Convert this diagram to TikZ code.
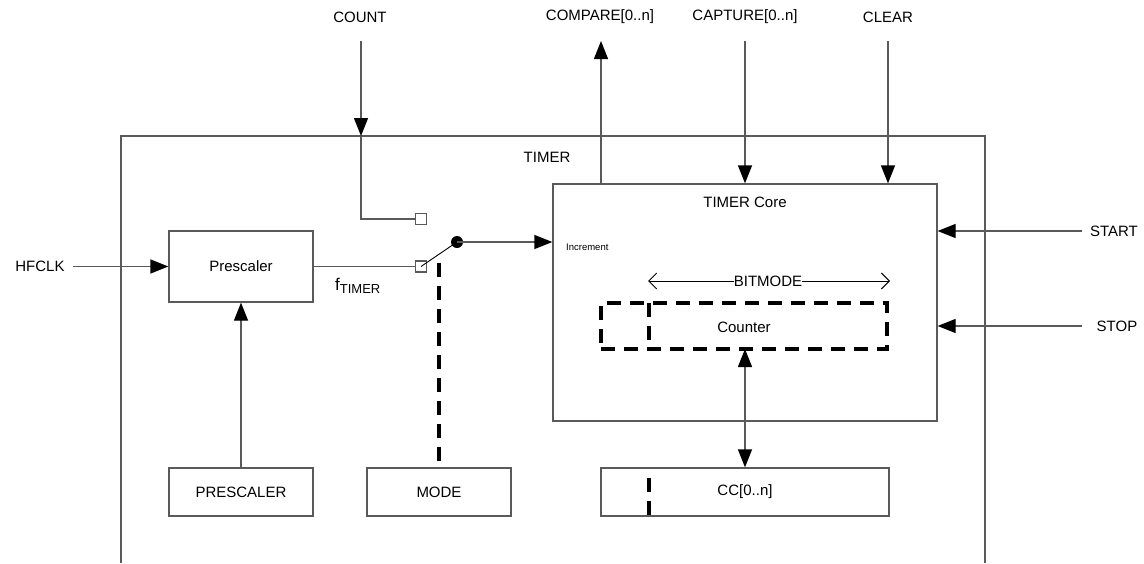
\documentclass[tikz,border=0pt]{standalone}
\usepackage{fontspec}
\setmainfont{Liberation Sans}
\usetikzlibrary{arrows.meta}
\definecolor{linegray}{RGB}{90,90,90}
\tikzset{
  ln/.style={draw=linegray, line width=1.3pt},
  arr/.style={ln, -{Triangle[length=18pt,width=14pt,fill=black,color=black]}},
  darr/.style={ln, {Triangle[length=18pt,width=14pt,fill=black,color=black]}-{Triangle[length=18pt,width=14pt,fill=black,color=black]}},
  openarr/.style={draw=black, line width=0.9pt, {Straight Barb[length=8pt,width=16pt]}-{Straight Barb[length=8pt,width=16pt]}},
  box/.style={ln, fill=white, rectangle, inner sep=0pt, font=\fontsize{15}{18}\selectfont},
  lbl/.style={inner sep=0pt, font=\fontsize{15}{18}\selectfont},
  thickdash/.style={draw=black, line width=4pt, dash pattern=on 14pt off 9pt},
  sq/.style={ln, fill=white, rectangle, minimum size=11pt, inner sep=0pt},
}
\begin{document}
\begin{tikzpicture}[x=1pt,y=-1pt]
\useasboundingbox (0,0) rectangle (1144,563);
% outer TIMER box
\draw[ln] (121,563) -- (121,136) -- (985,136) -- (985,563);
\node[lbl] (timer) at (547,157) {TIMER};
% blocks
\node[box, minimum width=144pt, minimum height=71pt] (pre) at (241,266.5) {Prescaler};
\node[box, minimum width=144pt, minimum height=48pt] (preg) at (241,492) {PRESCALER};
\node[box, minimum width=144pt, minimum height=48pt] (mode) at (439,492) {MODE};
\node[box, minimum width=384pt, minimum height=237pt] (core) at (745,302.5) {};
\node[lbl] (coret) at (745,202) {TIMER Core};
\node[inner sep=0pt, anchor=west, font=\fontsize{9.5}{11}\selectfont] (inc) at (566,247) {Increment};
\node[box, minimum width=288pt, minimum height=48pt] (cc) at (745,492) {CC[0..n]};
% counter
\node[rectangle, thickdash, minimum width=286pt, minimum height=46pt, inner sep=0pt] (cnt) at (744,326) {};
\node[lbl] (cntt) at (744,327) {Counter};
\draw[thickdash] (649,303) -- (649,349);
% bitmode
\coordinate (bmL) at (648,281);
\coordinate (bmR) at (890,281);
\draw[openarr] (bmL) -- (bmR);
\node[lbl, fill=white, inner xsep=0pt] (bm) at (768,281) {BITMODE};
% CC dash
\draw[thickdash] (649,478) -- (649,516);
% counter <-> CC
\draw[darr] (745,349) -- (cc.north);
% top labels
\node[lbl] (count) at (360,17) {COUNT};
\node[lbl] (compare) at (600,17) {COMPARE[0..n]};
\node[lbl] (capture) at (745,17) {CAPTURE[0..n]};
\node[lbl] (clear) at (888,17) {CLEAR};
\node[lbl] (hfclk) at (40,266) {HFCLK};
\node[lbl] (start) at (1114,231) {START};
\node[lbl] (stop) at (1117,326) {STOP};
\node[lbl, anchor=west] (ftimer) at (335,286) {\fontsize{17}{18}\selectfont f\textsubscript{\fontsize{13}{15}\selectfont TIMER}};
% switch
\node[sq] (s1) at (421,219) {};
\node[sq] (s2) at (421,266.5) {};
\node[circle, fill=black, minimum size=12pt, inner sep=0pt] (dot) at (457,242) {};
% COUNT path
\coordinate (countS) at (361,41);
\coordinate (countB) at (361,136);
\coordinate (countC) at (361,219);
\draw[arr] (countS) -- (countB);
\draw[ln] (countB) -- (countC) -- (s1.west);
% prescaler path
\draw[ln] (pre.east |- s2) -- (s2.west);
\draw[draw=black, line width=0.9pt] (s2.center) -- (dot.center);
\draw[arr] (dot.center) -- (dot -| core.west);
\draw[thickdash] (439,263) -- (mode.north);
% HFCLK
\coordinate (hfS) at (73,266.5);
\draw[arr] (hfS) -- (pre.west);
\draw[arr] (preg.north) -- (pre.south);
% compare / capture / clear
\coordinate (compT) at (601,41);
\draw[arr] (compT |- core.north) -- (compT);
\coordinate (capT) at (745,41);
\draw[arr] (capT) -- (capT |- core.north);
\coordinate (clrT) at (888,41);
\draw[arr] (clrT) -- (clrT |- core.north);
% start / stop
\coordinate (startS) at (1082,231);
\draw[arr] (startS) -- (startS -| core.east);
\coordinate (stopS) at (1082,326);
\draw[arr] (stopS) -- (stopS -| core.east);
\end{tikzpicture}
\end{document}
